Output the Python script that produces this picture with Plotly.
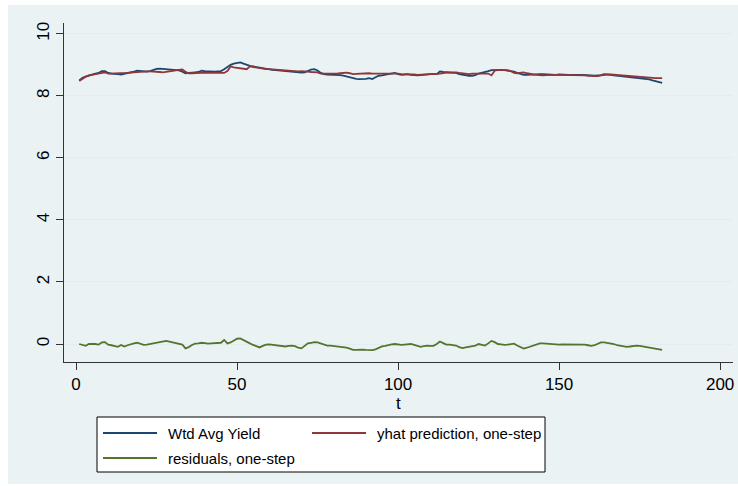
import plotly.graph_objects as go

# time index
t = list(range(1, 183))

# Wtd Avg Yield
wtd_avg_yield = [
    8.50, 8.58, 8.62, 8.66, 8.70, 8.72, 8.74, 8.80, 8.80, 8.74,
    8.72, 8.70, 8.70, 8.69, 8.71, 8.72, 8.74, 8.78, 8.81, 8.80,
    8.78, 8.78, 8.80, 8.84, 8.87, 8.88, 8.87, 8.87, 8.86, 8.86,
    8.84, 8.82, 8.78, 8.73, 8.74, 8.76, 8.76, 8.77, 8.81, 8.80,
    8.79, 8.78, 8.78, 8.79, 8.80, 8.86, 8.94, 9.00, 9.04, 9.07,
    9.08, 9.04, 9.00, 8.97, 8.95, 8.93, 8.90, 8.88, 8.86, 8.85,
    8.84, 8.83, 8.82, 8.80, 8.79, 8.79, 8.78, 8.77, 8.76, 8.75,
    8.76, 8.80, 8.85, 8.86, 8.82, 8.74, 8.70, 8.69, 8.69, 8.68,
    8.68, 8.67, 8.65, 8.62, 8.60, 8.57, 8.55, 8.54, 8.54, 8.55,
    8.57, 8.54, 8.60, 8.65, 8.66, 8.68, 8.71, 8.72, 8.74, 8.70,
    8.68, 8.69, 8.70, 8.68, 8.66, 8.66, 8.67, 8.68, 8.70, 8.70,
    8.71, 8.70, 8.79, 8.77, 8.76, 8.75, 8.75, 8.74, 8.70, 8.68,
    8.67, 8.65, 8.65, 8.67, 8.72, 8.74, 8.76, 8.80, 8.83, 8.84,
    8.84, 8.84, 8.83, 8.82, 8.80, 8.78, 8.74, 8.70, 8.68, 8.68,
    8.69, 8.70, 8.70, 8.70, 8.70, 8.69, 8.69, 8.68, 8.68, 8.69,
    8.68, 8.68, 8.68, 8.68, 8.69, 8.68, 8.68, 8.68, 8.67, 8.66,
    8.65, 8.65, 8.67, 8.70, 8.70, 8.68, 8.66, 8.65, 8.64, 8.62,
    8.60, 8.59, 8.58, 8.57, 8.56, 8.56, 8.55, 8.53, 8.50, 8.48,
    8.45, 8.42,
]

# yhat prediction, one-step
yhat_one_step = [
    8.48, 8.56, 8.62, 8.66, 8.68, 8.70, 8.72, 8.76, 8.76, 8.72,
    8.72, 8.72, 8.73, 8.73, 8.74, 8.74, 8.75, 8.76, 8.78, 8.79,
    8.79, 8.79, 8.79, 8.79, 8.78, 8.77, 8.76, 8.77, 8.78, 8.80,
    8.82, 8.84, 8.85, 8.78, 8.73, 8.73, 8.74, 8.74, 8.74, 8.74,
    8.74, 8.74, 8.73, 8.73, 8.74, 8.74, 8.80, 8.95, 8.92, 8.90,
    8.89, 8.88, 8.86, 8.95, 8.93, 8.92, 8.90, 8.88, 8.86, 8.86,
    8.85, 8.84, 8.83, 8.82, 8.82, 8.81, 8.80, 8.80, 8.79, 8.80,
    8.80, 8.78, 8.77, 8.77, 8.76, 8.72, 8.71, 8.72, 8.72, 8.71,
    8.72, 8.73, 8.74, 8.75, 8.73, 8.70, 8.71, 8.72, 8.72, 8.72,
    8.73, 8.72, 8.72, 8.71, 8.72, 8.71, 8.72, 8.72, 8.73, 8.72,
    8.70, 8.70, 8.70, 8.71, 8.69, 8.68, 8.69, 8.70, 8.71, 8.70,
    8.71, 8.70, 8.72, 8.74, 8.75, 8.75, 8.76, 8.76, 8.74, 8.72,
    8.71, 8.70, 8.72, 8.73, 8.72, 8.72, 8.71, 8.72, 8.66, 8.81,
    8.84, 8.84, 8.84, 8.83, 8.80, 8.74, 8.73, 8.75, 8.76, 8.73,
    8.70, 8.69, 8.68, 8.66, 8.66, 8.67, 8.68, 8.68, 8.68, 8.68,
    8.68, 8.68, 8.68, 8.68, 8.68, 8.68, 8.67, 8.66, 8.65, 8.64,
    8.64, 8.64, 8.66, 8.68, 8.69, 8.69, 8.68, 8.67, 8.67, 8.66,
    8.65, 8.64, 8.62, 8.61, 8.60, 8.59, 8.59, 8.58, 8.58, 8.57,
    8.57, 8.57,
]

# residuals, one-step
residuals_one_step = [
    0.00, -0.02, -0.06, 0.00, 0.01, 0.00, -0.02, 0.05, 0.06, -0.02,
    -0.04, -0.06, -0.09, -0.03, -0.08, -0.04, 0.00, 0.02, 0.04, 0.01,
    -0.03, -0.02, 0.00, 0.03, 0.05, 0.07, 0.08, 0.10, 0.08, 0.05,
    0.02, 0.00, -0.02, -0.14, -0.10, -0.03, 0.01, 0.02, 0.04, 0.03,
    0.01, 0.02, 0.02, 0.02, 0.04, 0.13, 0.02, 0.05, 0.12, 0.17,
    0.18, 0.12, 0.08, 0.02, -0.03, -0.08, -0.11, -0.06, -0.02, -0.01,
    -0.02, -0.03, -0.04, -0.06, -0.08, -0.06, -0.05, -0.07, -0.12, -0.14,
    -0.05, 0.02, 0.04, 0.06, 0.05, 0.01, -0.03, -0.05, -0.05, -0.06,
    -0.07, -0.08, -0.09, -0.12, -0.15, -0.19, -0.19, -0.18, -0.18, -0.19,
    -0.20, -0.20, -0.17, -0.12, -0.08, -0.06, -0.03, -0.01, 0.00, -0.02,
    -0.03, -0.02, -0.01, 0.00, -0.03, -0.06, -0.09, -0.07, -0.05, -0.06,
    -0.06, 0.00, 0.08, 0.03, -0.02, -0.02, -0.03, -0.05, -0.10, -0.13,
    -0.11, -0.09, -0.08, -0.05, 0.00, -0.03, -0.05, 0.02, 0.10, 0.06,
    0.00, -0.01, -0.03, -0.02, 0.00, 0.01, -0.05, -0.09, -0.15, -0.12,
    -0.08, -0.04, 0.00, 0.02, 0.02, 0.01, -0.01, -0.02, -0.02, -0.02,
    -0.01, -0.01, 0.00, 0.00, 0.00, 0.00, -0.01, -0.02, -0.04, -0.06,
    -0.04, 0.00, 0.05, 0.05, 0.04, 0.03, 0.00, -0.04, -0.06, -0.07,
    -0.09, -0.08, -0.06, -0.05, -0.06, -0.08, -0.08, -0.10, -0.14, -0.16,
    -0.17, -0.19,
]

series_names = ["Wtd Avg Yield", "yhat prediction, one-step", "residuals, one-step"]
series_colors = ["#1a476f", "#90353b", "#55752f"]
x_ticks = [0, 50, 100, 150, 200]
y_ticks = [0, 2, 4, 6, 8, 10]

W, H = 738, 490
ML, MR, MT, MB = 64, 5, 23, 128
PW, PH = W - ML - MR, H - MT - MB

FONT = "Liberation Sans, Arial, sans-serif"
BG = "#eaf2f3"


def px_x(p):
    return (p - ML) / PW


def px_y(p):
    return (H - MB - p) / PH


fig = go.Figure()
for name, ys, col in zip(series_names, [wtd_avg_yield, yhat_one_step, residuals_one_step], series_colors):
    fig.add_trace(go.Scatter(x=t, y=ys, mode="lines", name=name,
                             line=dict(color=col, width=1.8), showlegend=False))

shapes = [
    # outer graph region
    dict(type="rect", xref="paper", yref="paper", layer="below",
         x0=px_x(8), x1=px_x(740), y0=px_y(484), y1=px_y(5),
         fillcolor=BG, line=dict(width=0)),
    # legend box
    dict(type="rect", xref="paper", yref="paper",
         x0=px_x(97), x1=px_x(545), y0=px_y(472), y1=px_y(417),
         fillcolor="white", line=dict(color="black", width=1)),
]
annotations = [
    dict(text="t", xref="paper", yref="paper", x=px_x(398), y=px_y(403),
         showarrow=False, font=dict(family=FONT, size=17, color="black"),
         xanchor="center", yanchor="middle"),
]

legend_items = [(0, 103, 157, 166, 433), (1, 312, 366, 375, 433), (2, 103, 157, 166, 458)]
for i, lx0, lx1, tx, ty in legend_items:
    shapes.append(dict(type="line", xref="paper", yref="paper",
                       x0=px_x(lx0), x1=px_x(lx1), y0=px_y(ty), y1=px_y(ty),
                       line=dict(color=series_colors[i], width=1.8)))
    annotations.append(dict(text=series_names[i], xref="paper", yref="paper",
                            x=px_x(tx), y=px_y(ty), showarrow=False,
                            xanchor="left", yanchor="middle",
                            font=dict(family=FONT, size=15, color="black")))

fig.update_layout(
    width=W, height=H, autosize=False,
    margin=dict(l=ML, r=MR, t=MT, b=MB, pad=0),
    paper_bgcolor="white", plot_bgcolor="white",
    font=dict(family=FONT, size=17, color="black"),
    shapes=shapes, annotations=annotations,
    xaxis=dict(range=[-3.73, 204.0], tickvals=x_ticks, ticks="outside", ticklen=7,
               tickcolor="#333333", showgrid=False, zeroline=False,
               showline=True, linecolor="#333333", linewidth=1,
               tickfont=dict(family=FONT, size=17, color="black")),
    yaxis=dict(range=[-0.58, 10.35], tickvals=y_ticks, ticks="outside", ticklen=7,
               tickcolor="#333333", showgrid=True, gridcolor="#e3edf0", gridwidth=1.2,
               zeroline=False, showline=True, linecolor="#333333", linewidth=1,
               tickangle=-90, tickfont=dict(family=FONT, size=17, color="black")),
)

fig.write_html("out.html")
